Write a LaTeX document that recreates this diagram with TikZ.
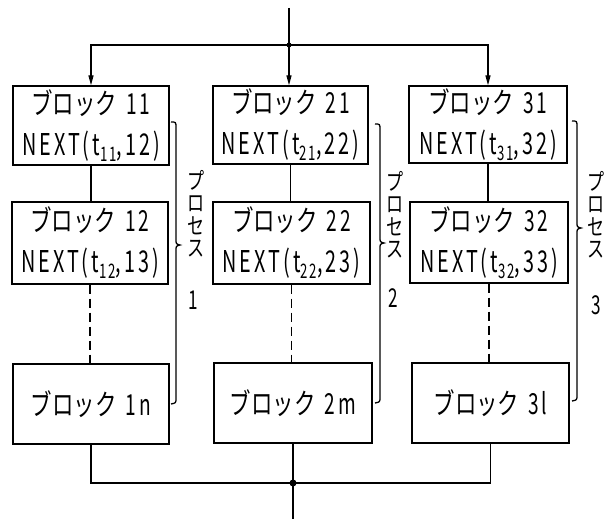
\documentclass[tikz,border=0pt]{standalone}
\usepackage{fontspec}
\setmainfont{Noto Sans CJK JP}[FakeStretch=0.74]
\newfontfamily\latn{Noto Sans CJK JP}[FakeStretch=0.66,LetterSpace=10]
\usetikzlibrary{arrows.meta}
\newcommand{\blk}[1]{ブロック\hspace{9pt}{\latn\fontsize{29}{41}\selectfont #1}}
\newcommand{\nxt}[2]{{\latn\fontsize{30}{41}\selectfont NEXT(t\raisebox{-6pt}{\fontsize{20}{20}\selectfont #1},#2)}}
\begin{document}
\begin{tikzpicture}[x=1pt,y=-1pt,line width=1.3pt,
  box/.style={draw,inner sep=0pt,align=center,font=\fontsize{29}{41}\selectfont},
  vtext/.style={align=center,inner sep=0pt,font=\fontsize{23}{22.5}\selectfont},
  num/.style={inner sep=0pt,font=\latn\fontsize{26}{26}\selectfont},
  arr/.style={-{Triangle[length=10pt,width=5pt]}},
  dsh/.style={dash pattern=on 9pt off 5pt}]
\useasboundingbox (0,0) rectangle (608,519);
% boxes column 1
\node[box,minimum width=156pt,minimum height=79pt] (b11) at (91,125.5) {\blk{11}\\\nxt{11}{12}};
\node[box,minimum width=156pt,minimum height=82pt] (b12) at (90,243) {\blk{12}\\\nxt{12}{13}};
\node[box,minimum width=156pt,minimum height=80pt] (b1n) at (91,404) {\blk{1n}};
% column 2
\node[box,minimum width=155pt,minimum height=78pt] (b21) at (290.5,125) {\blk{21}\\\nxt{21}{22}};
\node[box,minimum width=157pt,minimum height=82pt] (b22) at (291.5,243) {\blk{22}\\\nxt{22}{23}};
\node[box,minimum width=158pt,minimum height=80pt] (b2m) at (293,403) {\blk{2m}};
% column 3
\node[box,minimum width=158pt,minimum height=77pt] (b31) at (488,124.5) {\blk{31}\\\nxt{31}{32}};
\node[box,minimum width=158pt,minimum height=81pt] (b32) at (489,242.5) {\blk{32}\\\nxt{32}{33}};
\node[box,minimum width=157pt,minimum height=80pt] (b3l) at (490.5,403) {\blk{3l}};
% top distribution
\coordinate (top) at (289,8);
\coordinate (j1) at (289,45);
\draw (top) -- (j1);
\draw[arr] (j1) -| (b11.north);
\draw[arr] (j1) -| (b31.north);
\draw[arr] (j1) -- (j1 |- b21.north);
\fill (j1) circle (2.5pt);
% inner connectors
\draw (b11.south) -- (b11.south |- b12.north);
\draw[dsh] (b12.south) -- (b12.south |- b1n.north);
\draw (b21.south) -- (b21.south |- b22.north);
\draw[dsh] (b22.south) -- (b22.south |- b2m.north);
\draw (b31.south) -- (b31.south |- b32.north);
\draw[dsh] (b32.south) -- (b32.south |- b3l.north);
% bottom gathering
\coordinate (j2) at (293,483);
\coordinate (bot) at (293,519);
\draw (b1n.south) |- (j2);
\draw (b3l.south) |- (j2);
\draw (b2m.south) -- (j2) -- (bot);
\fill (j2) circle (3.5pt);
% braces
\draw (171,122) .. controls (176,122) .. (176,128) -- (176,239)
  .. controls (176,244) .. (180,245) .. controls (176,246) .. (176,251)
  -- (176,398) .. controls (176,403) .. (171,404);
\draw (375,124) .. controls (380,124) .. (380,130) -- (380,237)
  .. controls (380,242) .. (384,243) .. controls (380,244) .. (380,249)
  -- (380,397) .. controls (380,402) .. (375,403);
\draw (572,121) .. controls (577,121) .. (577,127) -- (577,222)
  .. controls (577,227) .. (581,228) .. controls (577,229) .. (577,234)
  -- (577,395) .. controls (577,400) .. (572,401);
% labels
\node[vtext] (p1) at (196,214) {プ\\ロ\\セ\\ス};
\node[vtext] (p2) at (395,215) {プ\\ロ\\セ\\ス};
\node[vtext] (p3) at (596,215) {プ\\ロ\\セ\\ス};
\node[num] (n1) at (193,300) {1};
\node[num] (n2) at (393,298) {2};
\node[num] (n3) at (596,305) {3};
\end{tikzpicture}
\end{document}
